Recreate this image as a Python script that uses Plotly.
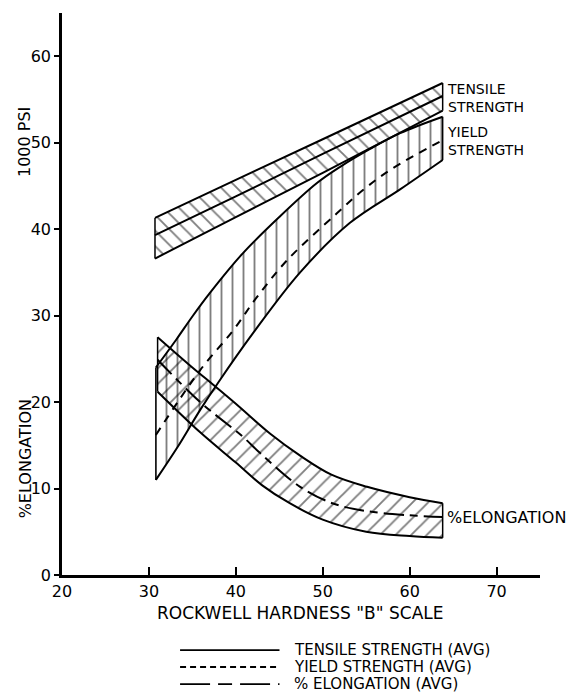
import plotly.graph_objects as go

# ---- data ----
ts_x = [30.7, 40, 50, 63.8]
ts_up = [41.3, 45.7, 50.4, 56.9]
ts_avg = [39.3, 43.8, 48.7, 55.4]
ts_lo = [36.6, 41.4, 46.5, 53.7]

ys_up_x = [30.8, 33.2, 35, 37, 40.8, 45, 49.3, 52, 55.5, 58.9, 63.8]
ys_up = [24.0, 27.3, 29.9, 32.6, 37.2, 41.4, 45.3, 47.2, 49.3, 51.1, 53.0]
ys_avg_x = [30.8, 35.9, 39.7, 42.4, 45.9, 51.6, 54.6, 58, 63.8]
ys_avg = [16.2, 23.7, 28.3, 32.1, 36.4, 41.8, 44.5, 47.0, 50.3]
ys_lo_x = [30.8, 33.3, 35.9, 38, 42, 47.4, 53.1, 58.9, 63.8]
ys_lo = [11.0, 14.8, 19.1, 22.3, 28.0, 35.0, 40.7, 44.6, 48.0]

el_up_x = [31, 35, 37.4, 40, 44, 47.4, 51, 55.1, 60, 63.8]
el_up = [27.5, 24.0, 22.0, 19.8, 16.3, 13.8, 11.6, 10.2, 9.0, 8.3]
el_avg_x = [31, 35.9, 40.8, 42.8, 47.4, 51.1, 55, 60, 63.8]
el_avg = [24.9, 20.0, 16.0, 14.1, 10.2, 8.3, 7.4, 6.9, 6.7]
el_lo_x = [31, 35.9, 40, 43, 46.2, 50, 55, 60, 63.8]
el_lo = [21.2, 16.5, 13.0, 10.4, 8.3, 6.4, 5.0, 4.5, 4.3]

x_ticks = [20, 30, 40, 50, 60, 70]
y_ticks = [0, 10, 20, 30, 40, 50, 60]

legend_labels = ["TENSILE STRENGTH (AVG)", "YIELD STRENGTH (AVG)", "% ELONGATION (AVG)"]

FONT = "DejaVu Sans"
BLK = "black"

fig = go.Figure()


def band(xl, yl, xu, yu, shape):
    fig.add_trace(go.Scatter(x=xl, y=yl, mode="lines", line=dict(color=BLK, width=2, shape="spline"),
                             showlegend=False, hoverinfo="skip"))
    fig.add_trace(go.Scatter(x=xu, y=yu, mode="lines", line=dict(color=BLK, width=2, shape="spline"),
                             fill="tonexty", fillcolor="rgba(0,0,0,0)",
                             fillpattern=dict(shape=shape, fgcolor=BLK, bgcolor="rgba(0,0,0,0)",
                                              size=11, solidity=0.17),
                             showlegend=False, hoverinfo="skip"))
    # end edges
    for i in (0, -1):
        fig.add_trace(go.Scatter(x=[xu[i], xl[i]], y=[yu[i], yl[i]], mode="lines",
                                 line=dict(color=BLK, width=1.5), showlegend=False, hoverinfo="skip"))


band(ts_x, ts_lo, ts_x, ts_up, "\\")
band(ys_lo_x, ys_lo, ys_up_x, ys_up, "|")
band(el_lo_x, el_lo, el_up_x, el_up, "/")

fig.add_trace(go.Scatter(x=ts_x, y=ts_avg, mode="lines", line=dict(color=BLK, width=2, shape="spline"),
                         showlegend=False, hoverinfo="skip"))
fig.add_trace(go.Scatter(x=ys_avg_x, y=ys_avg, mode="lines",
                         line=dict(color=BLK, width=2, shape="spline", dash="8px,7px"),
                         showlegend=False, hoverinfo="skip"))
fig.add_trace(go.Scatter(x=el_avg_x, y=el_avg, mode="lines",
                         line=dict(color=BLK, width=2, shape="spline", dash="20px,6px,8px,6px"),
                         showlegend=False, hoverinfo="skip"))


def txt(x, y, s, xref="x", yref="y", size=15, xanchor="left", angle=0, align="left"):
    return dict(x=x, y=y, xref=xref, yref=yref, text=s, showarrow=False, xanchor=xanchor,
                yanchor="middle", textangle=angle, align=align,
                font=dict(family=FONT, size=size, color=BLK), borderpad=0)


ann = [
    txt(64.2, 55.2, "TENSILE<br>STRENGTH", size=14),
    txt(64.2, 50.2, "YIELD<br>STRENGTH", size=14),
    txt(64.2, 6.6, "%ELONGATION", size=16),
    txt(-0.077, 50.1, "1000 PSI", xref="paper", size=16, xanchor="center", angle=-90),
    txt(-0.077, 13.4, "%ELONGATION", xref="paper", size=16, xanchor="center", angle=-90),
    txt(47.4, -0.068, 'ROCKWELL HARDNESS "B" SCALE', yref="paper", size=17, xanchor="center"),
]

# manual legend
rows_y = [-0.1335, -0.1637, -0.194]
dashes = ["solid", "6px,4px", "30px,8px,14px,8px"]
shapes = []
for ry, d, lab in zip(rows_y, dashes, legend_labels):
    shapes.append(dict(type="line", xref="paper", yref="paper", x0=0.247, x1=0.455, y0=ry, y1=ry,
                       line=dict(color=BLK, width=1.8, dash=d)))
    ann.append(txt(0.483, ry, lab, xref="paper", yref="paper", size=15))

fig.update_layout(
    width=576, height=692, autosize=False,
    margin=dict(l=54, r=44, t=5, b=125),
    paper_bgcolor="white", plot_bgcolor="white",
    annotations=ann, shapes=shapes,
    xaxis=dict(range=[20, 75], tickvals=x_ticks, ticks="inside", ticklen=8, tickwidth=1.5,
               tickcolor=BLK, showline=True, linewidth=2.5, linecolor=BLK, showgrid=False,
               zeroline=False, tickfont=dict(family=FONT, size=16, color=BLK)),
    yaxis=dict(range=[0, 65], tickvals=y_ticks, ticks="outside", ticklen=5, tickwidth=1.5,
               tickcolor=BLK, showline=True, linewidth=2.5, linecolor=BLK, showgrid=False,
               zeroline=False, tickfont=dict(family=FONT, size=16, color=BLK)),
)

fig.write_html("out.html")
